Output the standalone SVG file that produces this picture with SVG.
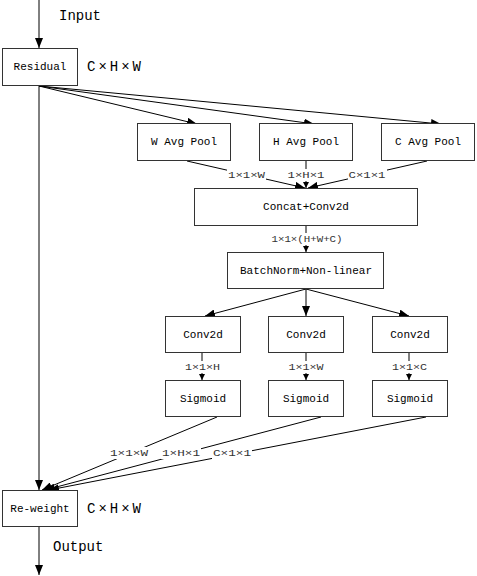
<svg xmlns="http://www.w3.org/2000/svg" width="477" height="576" viewBox="0 0 477 576">
<defs>
<marker id="ah" viewBox="0 0 10 8" refX="10" refY="4" markerWidth="10" markerHeight="8" markerUnits="userSpaceOnUse" orient="auto">
<path d="M0,0 L10,4 L0,8 Z" fill="#000"/>
</marker>
<marker id="as" viewBox="0 0 6 6" refX="6" refY="3" markerWidth="6" markerHeight="6" markerUnits="userSpaceOnUse" orient="auto">
<path d="M0,0 L6,3 L0,6 Z" fill="#000"/>
</marker>
</defs>
<style>
.box{fill:#fff;stroke:#333;stroke-width:1}
.t{font-family:"Liberation Mono",monospace;font-size:11px;fill:#000;text-anchor:middle;dominant-baseline:central}
.big{font-family:"Liberation Mono",monospace;font-size:14px;fill:#000;dominant-baseline:central}
.lab{font-family:"Liberation Mono",monospace;font-size:9.5px;fill:#333;text-anchor:middle;dominant-baseline:central}
.c{stroke:#000;stroke-width:1;fill:none}
.bg{fill:#fff}
</style>
<rect width="477" height="576" fill="#fff"/>
<g id="connectors">
<line class="c" x1="39" y1="0" x2="39" y2="48" marker-end="url(#ah)"/>
<line class="c" x1="39" y1="86" x2="39" y2="490" marker-end="url(#ah)"/>
<line class="c" x1="39" y1="86" x2="197" y2="124" marker-end="url(#ah)"/>
<line class="c" x1="39" y1="86" x2="314" y2="124" marker-end="url(#ah)"/>
<line class="c" x1="39" y1="86" x2="441" y2="124" marker-end="url(#ah)"/>
<line class="c" x1="187" y1="161" x2="305" y2="188" marker-end="url(#ah)"/>
<line class="c" x1="306" y1="161" x2="306" y2="188" marker-end="url(#as)"/>
<line class="c" x1="427" y1="161" x2="308" y2="188" marker-end="url(#ah)"/>
<line class="c" x1="306" y1="226" x2="306" y2="252" marker-end="url(#as)"/>
<line class="c" x1="306" y1="289" x2="205" y2="316" marker-end="url(#ah)"/>
<line class="c" x1="306" y1="289" x2="306" y2="316" marker-end="url(#ah)"/>
<line class="c" x1="306" y1="289" x2="409" y2="316" marker-end="url(#ah)"/>
<line class="c" x1="202" y1="353" x2="202" y2="380" marker-end="url(#as)"/>
<line class="c" x1="306" y1="353" x2="306" y2="380" marker-end="url(#as)"/>
<line class="c" x1="409" y1="353" x2="409" y2="380" marker-end="url(#as)"/>
<line class="c" x1="217" y1="417" x2="42" y2="490" marker-end="url(#ah)"/>
<line class="c" x1="321" y1="417" x2="45" y2="490" marker-end="url(#ah)"/>
<line class="c" x1="426" y1="417" x2="49" y2="490" marker-end="url(#ah)"/>
<line class="c" x1="39" y1="527" x2="39" y2="575" marker-end="url(#ah)"/>
<rect class="bg" x="227" y="169" width="39" height="12"/>
<text class="lab" x="246.5" y="175" textLength="37" lengthAdjust="spacingAndGlyphs">1×1×W</text>
<rect class="bg" x="288" y="169" width="37" height="12"/>
<text class="lab" x="306" y="175" textLength="37" lengthAdjust="spacingAndGlyphs">1×H×1</text>
<rect class="bg" x="348" y="169" width="39" height="12"/>
<text class="lab" x="367" y="175" textLength="37" lengthAdjust="spacingAndGlyphs">C×1×1</text>
<rect class="bg" x="271" y="233" width="73" height="12"/>
<text class="lab" x="307" y="239" textLength="71" lengthAdjust="spacingAndGlyphs">1×1×(H+W+C)</text>
<rect class="bg" x="184" y="361" width="37" height="12"/>
<text class="lab" x="202.5" y="367" textLength="35" lengthAdjust="spacingAndGlyphs">1×1×H</text>
<rect class="bg" x="288" y="361" width="37" height="12"/>
<text class="lab" x="306" y="367" textLength="35" lengthAdjust="spacingAndGlyphs">1×1×W</text>
<rect class="bg" x="391" y="361" width="37" height="12"/>
<text class="lab" x="409.5" y="367" textLength="35" lengthAdjust="spacingAndGlyphs">1×1×C</text>
<rect class="bg" x="109" y="447" width="40" height="12"/>
<text class="lab" x="129" y="453" textLength="38" lengthAdjust="spacingAndGlyphs">1×1×W</text>
<rect class="bg" x="161" y="447" width="40" height="12"/>
<text class="lab" x="181" y="453" textLength="38" lengthAdjust="spacingAndGlyphs">1×H×1</text>
<rect class="bg" x="212" y="447" width="40" height="12"/>
<text class="lab" x="232" y="453" textLength="38" lengthAdjust="spacingAndGlyphs">C×1×1</text>
</g>
<text class="big" x="59" y="16" font-size="13">Input</text>
<text class="big" x="53" y="547" font-size="13">Output</text>
<g id="residual">
<rect class="box" x="2.5" y="48.5" width="75" height="37"/>
<text class="t" x="40" y="67">Residual</text>
<text class="big" x="87" y="67" textLength="54" lengthAdjust="spacing">C×H×W</text>
</g>
<g id="wpool">
<rect class="box" x="137.5" y="123.5" width="93" height="37"/>
<text class="t" x="184" y="142">W Avg Pool</text>
</g>
<g id="hpool">
<rect class="box" x="259.5" y="123.5" width="93" height="37"/>
<text class="t" x="306" y="142">H Avg Pool</text>
</g>
<g id="cpool">
<rect class="box" x="381.5" y="123.5" width="93" height="37"/>
<text class="t" x="428" y="142">C Avg Pool</text>
</g>
<g id="concat">
<rect class="box" x="194.5" y="188.5" width="223" height="37"/>
<text class="t" x="306" y="207">Concat+Conv2d</text>
</g>
<g id="bn">
<rect class="box" x="227.5" y="252.5" width="156" height="36"/>
<text class="t" x="306" y="271">BatchNorm+Non-linear</text>
</g>
<g id="conv1">
<rect class="box" x="165.5" y="316.5" width="75" height="36"/>
<text class="t" x="203" y="335">Conv2d</text>
</g>
<g id="conv2">
<rect class="box" x="268.5" y="316.5" width="75" height="36"/>
<text class="t" x="306" y="335">Conv2d</text>
</g>
<g id="conv3">
<rect class="box" x="372.5" y="316.5" width="75" height="36"/>
<text class="t" x="410" y="335">Conv2d</text>
</g>
<g id="sig1">
<rect class="box" x="165.5" y="380.5" width="75" height="36"/>
<text class="t" x="203" y="399">Sigmoid</text>
</g>
<g id="sig2">
<rect class="box" x="268.5" y="380.5" width="75" height="36"/>
<text class="t" x="306" y="399">Sigmoid</text>
</g>
<g id="sig3">
<rect class="box" x="372.5" y="380.5" width="75" height="36"/>
<text class="t" x="410" y="399">Sigmoid</text>
</g>
<g id="reweight">
<rect class="box" x="2.5" y="490.5" width="75" height="36"/>
<text class="t" x="40" y="509">Re-weight</text>
<text class="big" x="87" y="509" textLength="54" lengthAdjust="spacing">C×H×W</text>
</g>
</svg>
